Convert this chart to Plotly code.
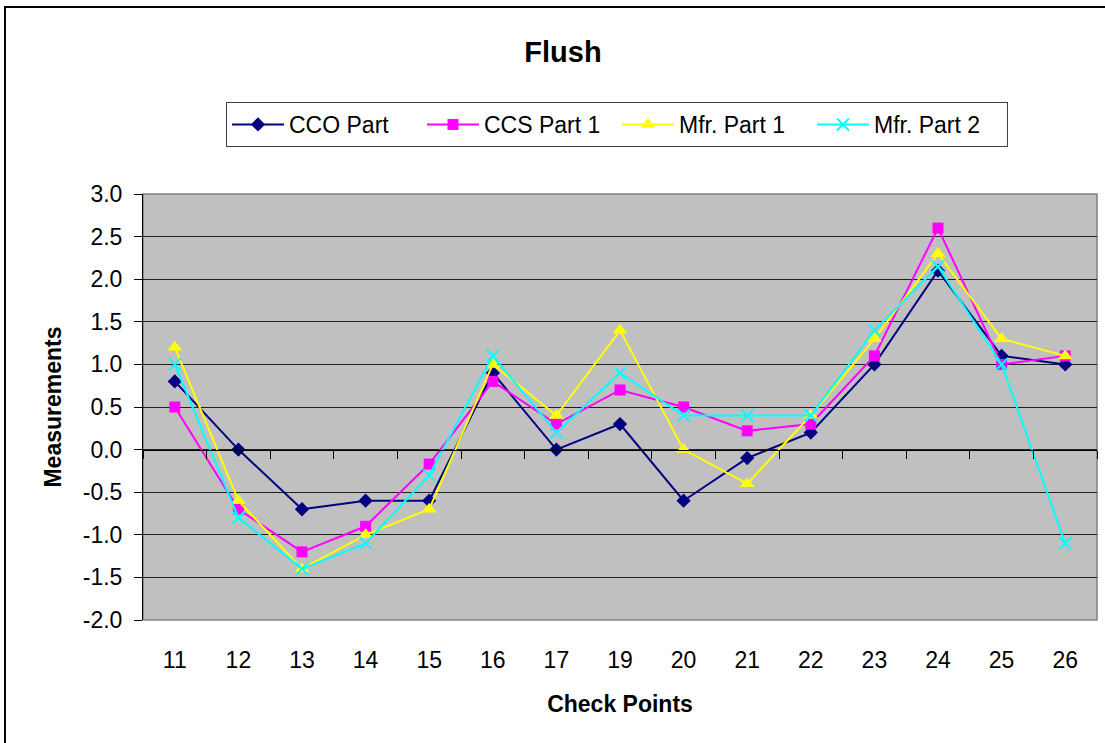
import plotly.graph_objects as go

check_points = ["11", "12", "13", "14", "15", "16", "17", "19", "20", "21", "22", "23", "24", "25", "26"]
cco_part = [0.8, 0.0, -0.7, -0.6, -0.6, 0.9, 0.0, 0.3, -0.6, -0.1, 0.2, 1.0, 2.1, 1.1, 1.0]
ccs_part1 = [0.5, -0.7, -1.2, -0.9, -0.17, 0.8, 0.3, 0.7, 0.5, 0.22, 0.3, 1.1, 2.6, 1.0, 1.1]
mfr_part1 = [1.2, -0.6, -1.4, -1.0, -0.7, 1.0, 0.4, 1.4, 0.0, -0.4, 0.4, 1.3, 2.3, 1.3, 1.1]
mfr_part2 = [1.0, -0.8, -1.4, -1.1, -0.3, 1.1, 0.2, 0.9, 0.4, 0.4, 0.4, 1.4, 2.15, 1.0, -1.1]

y_tick_vals = [-2.0, -1.5, -1.0, -0.5, 0.0, 0.5, 1.0, 1.5, 2.0, 2.5, 3.0]
y_tick_text = ["-2.0", "-1.5", "-1.0", "-0.5", "0.0", "0.5", "1.0", "1.5", "2.0", "2.5", "3.0"]

series = [
    ("CCO Part", cco_part, "#000080", "diamond", 11, None),
    ("CCS Part 1", ccs_part1, "#FF00FF", "square", 11, None),
    ("Mfr. Part 1", mfr_part1, "#FFFF00", "triangle-up", 13, None),
    ("Mfr. Part 2", mfr_part2, "#00FFFF", "x-thin-open", 12, 2),
]

fig = go.Figure()
for name, vals, color, sym, size, mlw in series:
    marker = dict(symbol=sym, size=size, color=color)
    if mlw:
        marker["line"] = dict(color=color, width=mlw)
    fig.add_trace(go.Scatter(
        x=check_points, y=vals, name=name, mode="lines+markers",
        line=dict(color=color, width=2), marker=marker,
    ))

# invisible trace for the category axis line crossing at zero
fig.add_trace(go.Scatter(x=check_points, y=[None] * len(check_points), xaxis="x2",
                         showlegend=False, hoverinfo="skip", mode="lines"))

W, H = 1105, 743
L, R, T, B = 143, 8, 194, 123
pw, ph = W - L - R, H - T - B
zero_pos = (0 - (-2)) / 5.0
FONT = "Arial, Liberation Sans, sans-serif"

fig.update_layout(
    width=W, height=H,
    margin=dict(l=L, r=R, t=T, b=B),
    paper_bgcolor="white",
    plot_bgcolor="#C0C0C0",
    font=dict(family=FONT, size=23, color="black"),
    title=dict(text="<b>Flush</b>", x=563 / W, xref="container",
               y=1 - 52 / H, yanchor="middle", xanchor="center",
               font=dict(size=29, color="black")),
    showlegend=True,
    legend=dict(orientation="h", x=(226 - L) / pw, xanchor="left",
                y=1 + (T - 102) / ph, yanchor="top",
                bordercolor="#404040", borderwidth=1, bgcolor="white",
                font=dict(size=23), itemwidth=52, entrywidth=128),
    xaxis=dict(
        type="category", categoryorder="array", categoryarray=check_points,
        showgrid=False, showline=False, zeroline=False,
        ticks="outside", ticklen=19, tickcolor="rgba(0,0,0,0)",
        title=dict(text="<b>Check Points</b>", font=dict(size=23), standoff=24),
        range=[-0.5, len(check_points) - 0.5],
    ),
    xaxis2=dict(
        type="category", categoryorder="array", categoryarray=check_points,
        overlaying="x", anchor="free", position=zero_pos, side="bottom",
        matches="x", showline=True, linecolor="black", linewidth=1,
        ticks="outside", tickson="boundaries", ticklen=8, tickcolor="black",
        showticklabels=False, showgrid=False, zeroline=False,
    ),
    yaxis=dict(
        range=[-2, 3], tickmode="array", tickvals=y_tick_vals, ticktext=y_tick_text,
        showgrid=True, gridcolor="#202020", gridwidth=1,
        zeroline=False, showline=True, linecolor="black", linewidth=1,
        ticks="outside", ticklen=8, tickcolor="black",
        ticklabelstandoff=7,
        title=dict(text="<b>Measurements</b>", font=dict(size=23), standoff=14),
    ),
    shapes=[
        dict(type="rect", xref="paper", yref="paper", x0=0, x1=1, y0=0, y1=1,
             line=dict(color="#808080", width=1.5), fillcolor="rgba(0,0,0,0)", layer="below"),
        dict(type="rect", xref="paper", yref="paper",
             x0=(5 - L) / pw, x1=1.2, y0=-0.6, y1=1 + (T - 7) / ph,
             line=dict(color="black", width=2), fillcolor="rgba(0,0,0,0)"),
    ],
)

fig.write_html(
    "out.html",
    config={"displayModeBar": False},
    post_script="document.body.style.margin='0';document.body.style.overflow='hidden';",
)
